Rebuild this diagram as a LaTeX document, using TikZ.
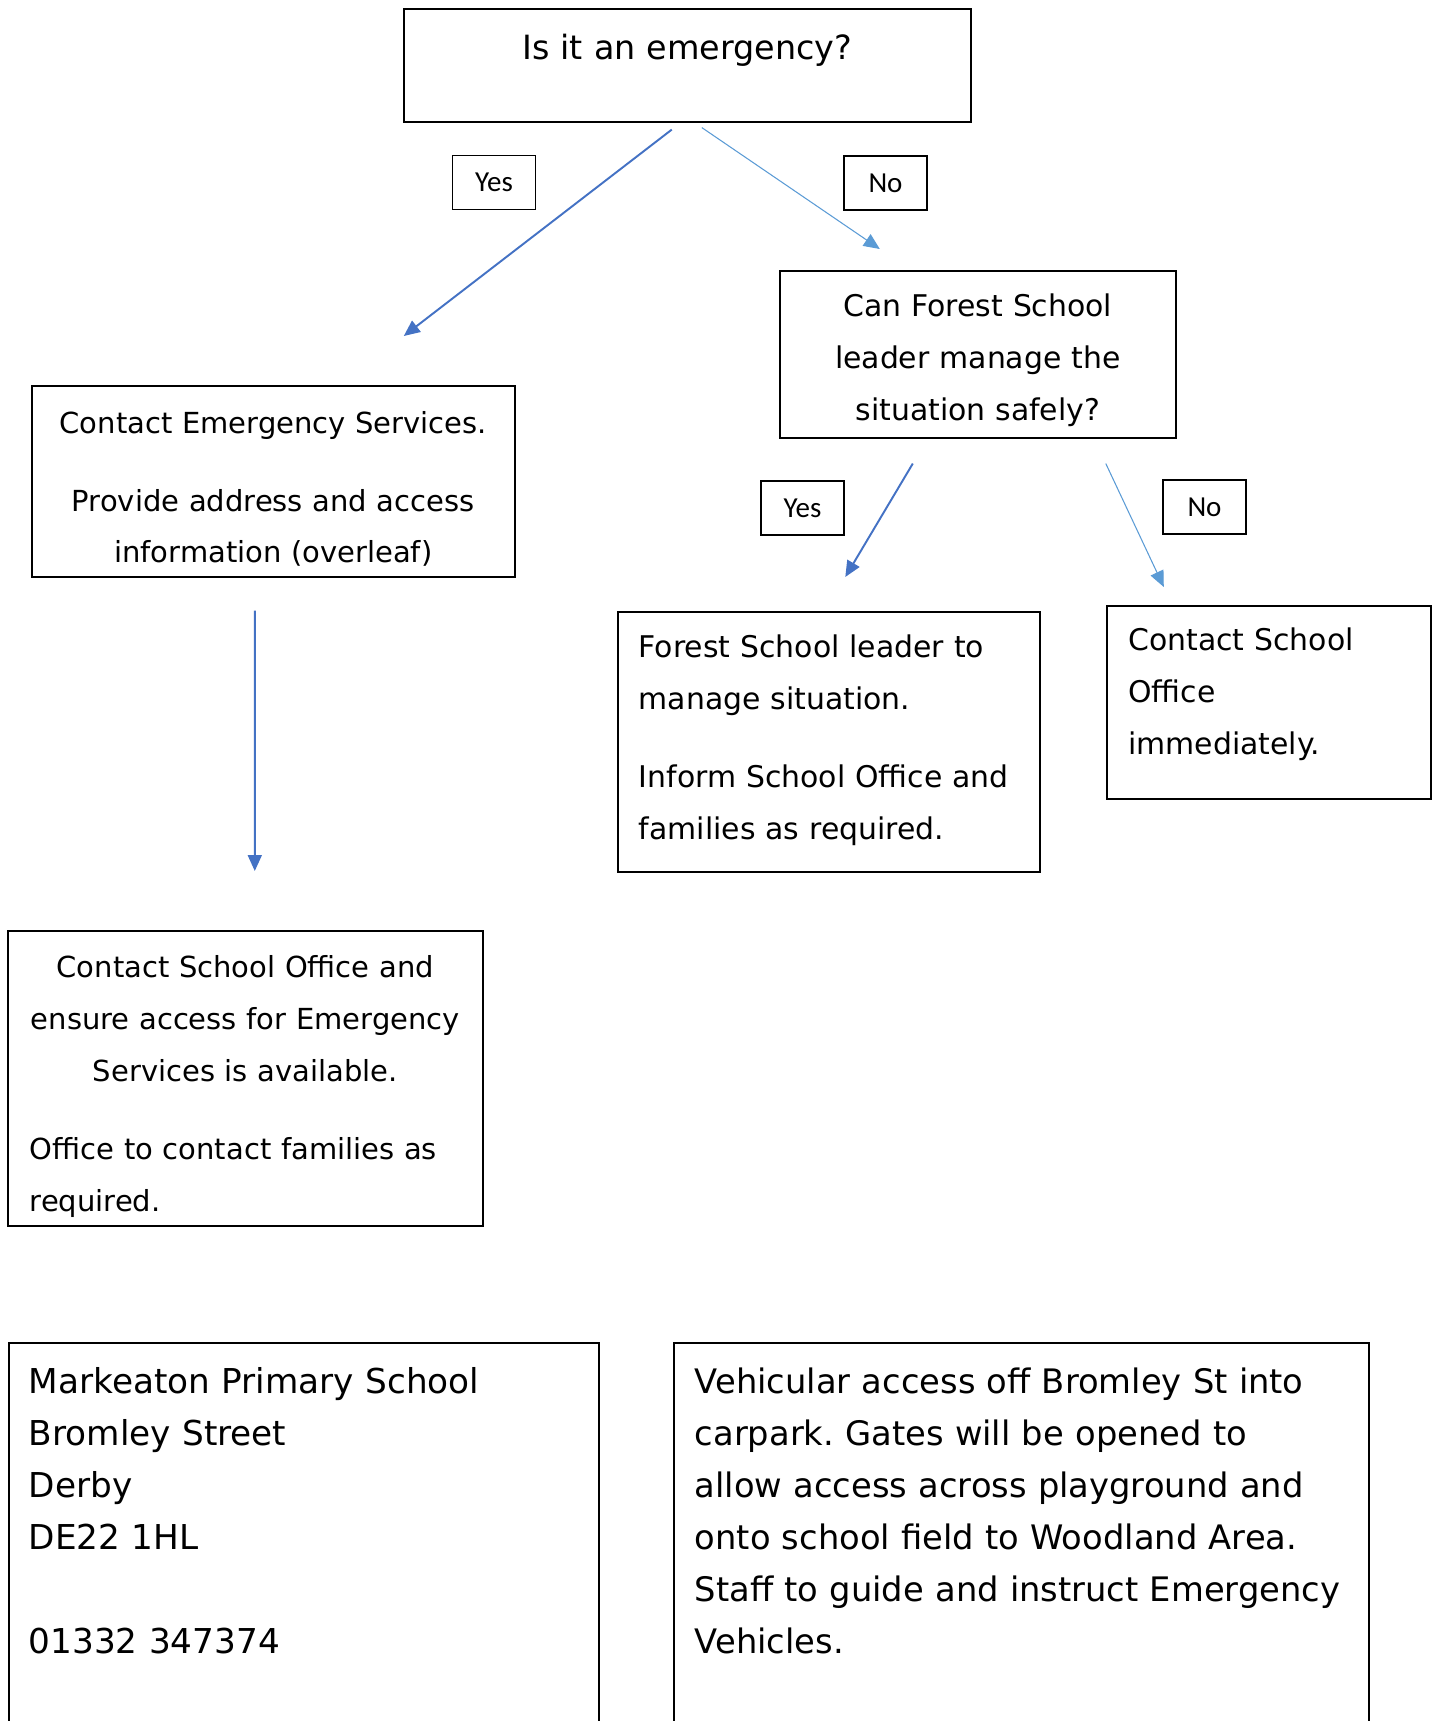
\documentclass[tikz,border=0pt]{standalone}
\usepackage{fontspec}
\setmainfont{DejaVu Sans}
\newfontfamily\answerfont{Carlito}
\usetikzlibrary{arrows.meta}
\definecolor{yesblue}{HTML}{4472C4}
\definecolor{noblue}{HTML}{5B9BD5}
\frenchspacing

\begin{document}
\begin{tikzpicture}[
        flowbox/.style={draw, line width=0.9pt, inner ysep=0pt, anchor=north west},
        answer/.style={draw, line width=0.9pt, inner sep=0pt, minimum width=1.66cm, minimum height=1.08cm, font=\answerfont\fontsize{16.5}{19}\selectfont},
        yesarrow/.style={-{Triangle[length=0.32cm,width=0.28cm]}, line width=1.1pt, yesblue},
        noarrow/.style={-{Triangle[length=0.32cm,width=0.28cm]}, line width=0.6pt, noblue}]

        \useasboundingbox (0,0) rectangle (28.74,-34.42);

        % questions
        \node[flowbox, inner xsep=0pt, text width=11.34cm, align=center, text height=1.02cm, text depth=1.24cm, font=\fontsize{19}{30}\selectfont] (emergency) at (8.06,-0.16) {Is it an emergency?};
        \node[flowbox, inner xsep=0pt, text width=7.92cm, align=center, text height=0.92cm, text depth=2.42cm, font=\fontsize{17}{29.5}\selectfont] (manage) at (15.58,-5.40) {Can Forest School\\ leader manage the\\ situation safely?};

        % emergency branch
        \node[flowbox, inner xsep=0pt, text width=9.66cm, align=center, text height=0.96cm, text depth=2.86cm, font=\fontsize{16.5}{29}\selectfont] (services) at (0.62,-7.70) {Contact Emergency Services.\\[15pt] Provide address and access\\ information (overleaf)};
        \node[flowbox, inner xsep=0.44cm, text width=8.62cm, text height=0.94cm, text depth=4.96cm, font=\fontsize{16.5}{29.5}\selectfont] (office) at (0.14,-18.60) {{\centering Contact School Office and\\ ensure access for Emergency\\ Services is available.\par}\vspace{15pt}{\raggedright Office to contact families as\\ required.\par}};

        % no emergency branch
        \node[flowbox, inner xsep=0.42cm, text width=7.60cm, align=left, text height=0.92cm, text depth=4.28cm, font=\fontsize{17}{29.5}\selectfont] (leader) at (12.34,-12.22) {Forest School leader to\\ manage situation.\\[15pt] Inform School Office and\\ families as required.};
        \node[flowbox, inner xsep=0.43cm, text width=5.62cm, align=left, text height=0.90cm, text depth=2.96cm, font=\fontsize{17}{29.5}\selectfont] (immediately) at (22.12,-12.10) {Contact School\\ Office\\ immediately.};

        % overleaf information
        \node[flowbox, inner xsep=0.40cm, text width=11.00cm, align=left, text height=1.02cm, text depth=7.98cm, font=\fontsize{19.5}{29.5}\selectfont] (address) at (0.16,-26.84) {Markeaton Primary School\\ Bromley Street\\ Derby\\ DE22 1HL\\[29.5pt] 01332 347374};
        \node[flowbox, inner xsep=0.42cm, text width=13.06cm, align=left, text height=1.02cm, text depth=7.98cm, font=\fontsize{19.2}{29.5}\selectfont] (access) at (13.46,-26.84) {Vehicular access off Bromley St into\\ carpark. Gates will be opened to\\ allow access across playground and\\ onto school field to Woodland Area.\\ Staff to guide and instruct Emergency\\ Vehicles.};

        % answers
        \node[answer] (yes1) at (9.88,-3.65) {Yes};
        \node[answer] (no1) at (17.71,-3.66) {No};
        \node[answer] (yes2) at (16.05,-10.16) {Yes};
        \node[answer] (no2) at (24.09,-10.14) {No};

        % arrows
        \draw[yesarrow] ([shift={(-0.31,-0.14)}]emergency.south) -- ([shift={(2.61,0.98)}]services.north);
        \draw[noarrow] ([shift={(0.29,-0.10)}]emergency.south) -- ([shift={(-1.96,0.42)}]manage.north);
        \draw[yesarrow] ([shift={(-1.30,-0.50)}]manage.south) -- ([shift={(0.33,0.68)}]leader.north);
        \draw[noarrow] ([shift={(2.56,-0.50)}]manage.south) -- ([shift={(-2.10,0.36)}]immediately.north);
        \draw[yesarrow] ([shift={(-0.37,-0.66)}]services.south) -- ([shift={(0.19,1.18)}]office.north);
    \end{tikzpicture}
\end{document}
